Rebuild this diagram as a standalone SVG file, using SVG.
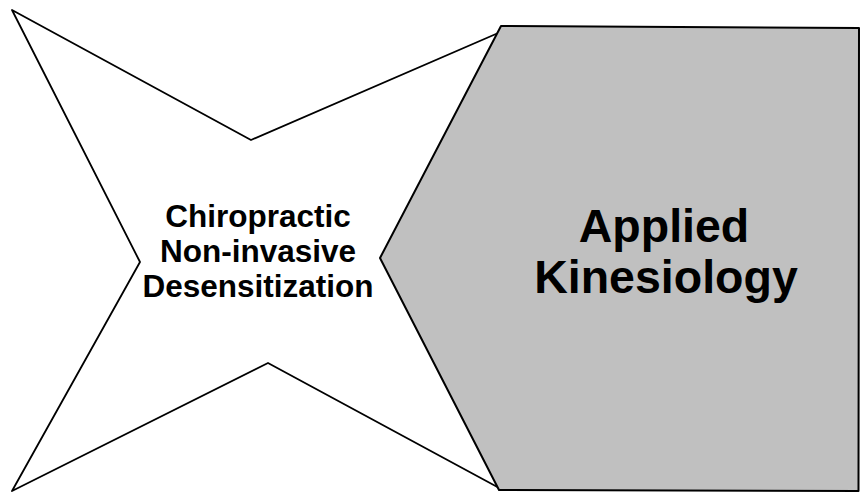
<svg xmlns="http://www.w3.org/2000/svg" width="860" height="494" viewBox="0 0 860 494">
  <style>
    .shape { stroke: #000; stroke-linejoin: round; }
    .lbl { font-family: "Liberation Sans", Arial, sans-serif; font-weight: bold; fill: #000; text-anchor: middle; }
  </style>
  <rect width="860" height="494" fill="#fff"/>
  <g id="star">
    <polygon class="shape" fill="#fff" stroke-width="1.8" points="12,10 251,140 504,30.5 400,258 502,489.5 268,363 12,491 140,262"/>
    <text class="lbl" font-size="31.5" x="258" y="227">Chiropractic</text>
    <text class="lbl" font-size="31.5" x="258" y="262">Non-invasive</text>
    <text class="lbl" font-size="31.5" x="258" y="297">Desensitization</text>
  </g>
  <g id="applied-kinesiology">
    <polygon class="shape" fill="#c0c0c0" stroke-width="2" points="501,26 859,28 858.5,491 499,490 380,258"/>
    <text class="lbl" font-size="46.5" x="664" y="242">Applied</text>
    <text class="lbl" font-size="46.5" x="666" y="293">Kinesiology</text>
  </g>
</svg>
